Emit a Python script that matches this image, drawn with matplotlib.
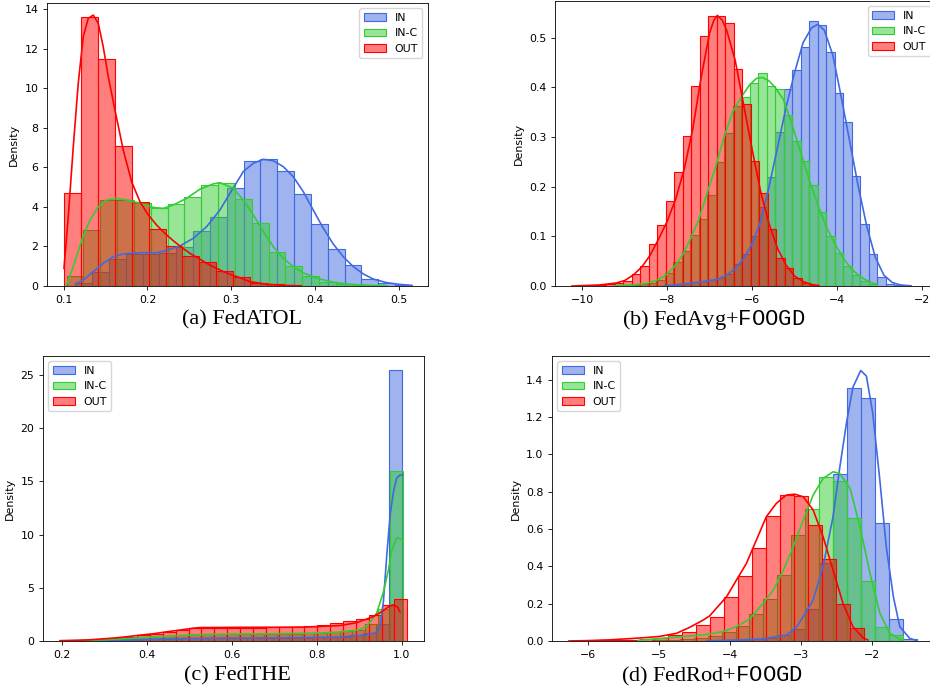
import numpy as np
import matplotlib
matplotlib.use("Agg")
import matplotlib.pyplot as plt
from matplotlib.colors import to_rgba
from matplotlib.ticker import MultipleLocator

plt.rcParams["font.family"] = "DejaVu Sans"
plt.rcParams["mathtext.fontset"] = "custom"
plt.rcParams["mathtext.rm"] = "Liberation Serif"
plt.rcParams["mathtext.tt"] = "Liberation Mono"

LABELS = ["IN", "IN-C", "OUT"]
COLORS = ["royalblue", "limegreen", "red"]

# --- (a) FedATOL : histogram ranges, bar heights, kde points ---
ATOL_RANGES = [(0.1138, 0.5154), (0.1036, 0.4851), (0.1003, 0.3831)]
ATOL_IN_H = [0.17, 0.69, 1.36, 1.63, 1.63, 1.68, 1.99, 2.78, 3.47, 4.93,
             6.30, 6.43, 5.83, 4.65, 3.12, 1.85, 1.04, 0.37, 0.17, 0.07]
ATOL_INC_H = [0.49, 2.83, 4.33, 4.33, 4.20, 3.92, 4.16, 4.48, 5.09, 5.22,
              4.41, 3.17, 1.73, 1.03, 0.52, 0.22, 0.10, 0.04, 0.02]
ATOL_OUT_H = [4.72, 13.58, 11.49, 7.06, 4.25, 2.90, 2.00, 1.52, 1.20, 0.77,
              0.47, 0.17, 0.08, 0.03]
ATOL_IN_KX = [0.1138, 0.1234, 0.1353, 0.1472, 0.1592, 0.1711, 0.191, 0.2109, 0.2208,
              0.2387, 0.2546, 0.2706, 0.2864, 0.2983, 0.3103, 0.3142, 0.3262, 0.3381,
              0.35, 0.362, 0.3739, 0.3858, 0.3977, 0.4097, 0.4216, 0.4335, 0.4455,
              0.4574, 0.4693, 0.4852, 0.5012, 0.5154]
ATOL_IN_KY = [0.1, 0.3, 0.72, 1.15, 1.48, 1.62, 1.68, 1.68, 1.78, 2.02, 2.41, 3.0,
              3.84, 4.68, 5.5, 5.78, 6.2, 6.40, 6.33, 6.03, 5.52, 4.77, 3.84, 2.92,
              2.12, 1.48, 0.98, 0.61, 0.35, 0.17, 0.08, 0.03]
ATOL_INC_KX = [0.1032, 0.1115, 0.1215, 0.1314, 0.1413, 0.1513, 0.1632, 0.1751, 0.191,
               0.2069, 0.2188, 0.2307, 0.2467, 0.2626, 0.2785, 0.2866, 0.3023, 0.3142,
               0.3262, 0.3381, 0.35, 0.362, 0.3739, 0.3858, 0.4018, 0.4216, 0.4415,
               0.4614, 0.4851]
ATOL_INC_KY = [0.05, 0.98, 2.3, 3.33, 4.0, 4.35, 4.43, 4.35, 4.18, 3.97, 3.92, 4.09,
               4.43, 4.89, 5.16, 5.22, 4.94, 4.35, 3.59, 2.75, 1.99, 1.4, 0.98, 0.67,
               0.39, 0.19, 0.085, 0.035, 0.01]
ATOL_OUT_KX = [0.1004, 0.1055, 0.1115, 0.1174, 0.1234, 0.1293, 0.1353, 0.1413, 0.1472,
               0.1532, 0.1612, 0.1711, 0.1811, 0.191, 0.2009, 0.2109, 0.2208, 0.2307,
               0.2408, 0.2507, 0.2606, 0.2706, 0.2805, 0.2904, 0.3004, 0.3103, 0.322,
               0.342, 0.362, 0.3831]
ATOL_OUT_KY = [0.89, 3.5, 7.04, 10.24, 12.6, 13.52, 13.69, 13.27, 12.09, 10.58, 8.89,
               6.87, 5.27, 4.26, 3.59, 3.08, 2.66, 2.29, 1.95, 1.65, 1.40, 1.15, 0.93,
               0.73, 0.56, 0.42, 0.22, 0.09, 0.03, 0.005]

# --- (b) FedAvg+FOOGD ---
AVG_RANGES = [(-8.058, -2.258), (-9.258, -3.058), (-10.235, -4.435)]
AVG_IN_H = [0.002, 0.004, 0.006, 0.008, 0.011, 0.013, 0.017, 0.025, 0.045, 0.065,
            0.10, 0.16, 0.22, 0.31, 0.396, 0.434, 0.481, 0.533, 0.526, 0.472,
            0.388, 0.331, 0.222, 0.125, 0.064, 0.018, 0.005, 0.002, 0.001]
AVG_INC_H = [0.0005, 0.001, 0.002, 0.004, 0.007, 0.012, 0.0255, 0.049, 0.070, 0.102,
             0.135, 0.184, 0.249, 0.309, 0.362, 0.381, 0.409, 0.428, 0.403, 0.396,
             0.344, 0.291, 0.252, 0.203, 0.150, 0.101, 0.066, 0.040, 0.022, 0.010, 0.004]
AVG_OUT_H = [0.001, 0.001, 0.002, 0.003, 0.004, 0.006, 0.010, 0.025, 0.041, 0.084,
             0.123, 0.171, 0.230, 0.302, 0.403, 0.503, 0.544, 0.544, 0.530, 0.436,
             0.366, 0.251, 0.187, 0.115, 0.056, 0.036, 0.017, 0.007, 0.003]
AVG_IN_KX = [-8.06, -7.6, -7.2, -7.0, -6.8, -6.6, -6.4, -6.2, -6.0, -5.8, -5.6, -5.4,
             -5.2, -5.0, -4.8, -4.6, -4.45, -4.3, -4.1, -3.9, -3.7, -3.5, -3.3, -3.1,
             -2.9, -2.7, -2.5, -2.26]
AVG_IN_KY = [0.0003, 0.004, 0.008, 0.011, 0.014, 0.022, 0.035, 0.055, 0.085, 0.13, 0.2,
             0.28, 0.36, 0.43, 0.49, 0.52, 0.527, 0.515, 0.465, 0.38, 0.29, 0.2, 0.12,
             0.058, 0.022, 0.007, 0.002, 0.0003]
AVG_INC_KX = [-9.26, -8.8, -8.5, -8.26, -8.06, -7.86, -7.66, -7.46, -7.26, -7.06, -6.86,
              -6.66, -6.46, -6.26, -6.06, -5.9, -5.76, -5.6, -5.46, -5.26, -5.06, -4.86,
              -4.66, -4.46, -4.26, -4.06, -3.86, -3.66, -3.46, -3.26, -3.06]
AVG_INC_KY = [0.0005, 0.002, 0.005, 0.011, 0.02, 0.036, 0.059, 0.093, 0.133, 0.187, 0.24,
              0.30, 0.35, 0.38, 0.405, 0.418, 0.42, 0.413, 0.40, 0.375, 0.325, 0.27,
              0.215, 0.165, 0.12, 0.086, 0.057, 0.034, 0.019, 0.009, 0.003]
AVG_OUT_KX = [-10.24, -9.6, -9.2, -9.0, -8.8, -8.6, -8.4, -8.2, -8.0, -7.8, -7.6, -7.4,
              -7.2, -7.0, -6.9, -6.82, -6.7, -6.6, -6.4, -6.2, -6.0, -5.8, -5.6, -5.4,
              -5.2, -5.0, -4.8, -4.6, -4.44]
AVG_OUT_KY = [0.0, 0.002, 0.006, 0.011, 0.022, 0.038, 0.062, 0.095, 0.13, 0.175, 0.235,
              0.315, 0.42, 0.51, 0.535, 0.545, 0.535, 0.515, 0.455, 0.365, 0.275, 0.19,
              0.125, 0.075, 0.042, 0.02, 0.009, 0.003, 0.001]

# --- (c) FedTHE ---
THE_RANGES = [(0.2389, 1.0014), (0.1997, 1.003), (0.196, 1.0132)]
THE_IN_H = [0.01, 0.03, 0.05, 0.08, 0.11, 0.15, 0.18, 0.21, 0.24, 0.26, 0.27, 0.28,
            0.28, 0.28, 0.29, 0.30, 0.31, 0.32, 0.34, 0.37, 0.42, 0.52, 0.75, 1.6, 25.47]
THE_INC_H = [0.02, 0.05, 0.1, 0.16, 0.22, 0.29, 0.36, 0.43, 0.5, 0.56, 0.62, 0.64, 0.65,
             0.66, 0.66, 0.67, 0.68, 0.69, 0.7, 0.72, 0.75, 0.8, 0.9, 1.05, 1.6, 3.0, 15.98]
THE_OUT_H = [0.02, 0.04, 0.08, 0.15, 0.25, 0.38, 0.53, 0.69, 0.88, 1.06, 1.2, 1.25, 1.25,
             1.25, 1.25, 1.26, 1.27, 1.29, 1.32, 1.38, 1.47, 1.66, 1.88, 2.07, 2.44, 3.4, 3.92]
THE_IN_KX = [0.239, 0.3, 0.35, 0.4, 0.45, 0.5, 0.55, 0.6, 0.7, 0.8, 0.85, 0.9, 0.92,
             0.94, 0.949, 0.957, 0.965, 0.973, 0.981, 0.988, 0.996, 1.0014]
THE_IN_KY = [0.0, 0.04, 0.09, 0.14, 0.19, 0.23, 0.26, 0.27, 0.29, 0.33, 0.37, 0.5, 0.6,
             0.8, 1.3, 3.7, 8.1, 11.9, 14.1, 15.3, 15.6, 15.6]
THE_INC_KX = [0.1997, 0.25, 0.3, 0.35, 0.4, 0.45, 0.5, 0.55, 0.6, 0.7, 0.8, 0.85, 0.9,
              0.918, 0.941, 0.957, 0.969, 0.976, 0.988, 0.996, 1.003]
THE_INC_KY = [0.0, 0.05, 0.12, 0.22, 0.34, 0.45, 0.55, 0.62, 0.65, 0.67, 0.73, 0.82, 1.05,
              1.4, 2.6, 4.6, 6.7, 8.4, 9.7, 9.6, 9.4]
THE_OUT_KX = [0.196, 0.23, 0.262, 0.293, 0.324, 0.356, 0.387, 0.418, 0.45, 0.479, 0.507,
              0.526, 0.6, 0.7, 0.776, 0.855, 0.894, 0.933, 0.955, 0.97, 0.98, 0.99, 0.996]
THE_OUT_KY = [0.03, 0.06, 0.1, 0.19, 0.28, 0.41, 0.56, 0.69, 0.88, 1.03, 1.19, 1.26, 1.28,
              1.29, 1.31, 1.45, 1.72, 2.29, 2.8, 3.25, 3.4, 3.2, 2.75]

# --- (d) FedRod+FOOGD ---
ROD_RANGES = [(-4.329, -1.371), (-5.298, -1.568), (-6.253, -2.11)]
ROD_IN_H = [0.001, 0.003, 0.006, 0.012, 0.018, 0.03, 0.065, 0.17, 0.42, 0.893, 1.354,
            1.30, 0.63, 0.116, 0.012]
ROD_INC_H = [0.002, 0.004, 0.007, 0.01, 0.014, 0.027, 0.05, 0.08, 0.143, 0.223, 0.354,
             0.566, 0.71, 0.88, 0.86, 0.66, 0.32, 0.077, 0.03]
ROD_OUT_H = [0.001, 0.002, 0.003, 0.005, 0.007, 0.012, 0.018, 0.032, 0.048, 0.086, 0.13,
             0.234, 0.348, 0.497, 0.671, 0.78, 0.777, 0.621, 0.437, 0.2, 0.068]
ROD_IN_KX = [-4.33, -3.91, -3.57, -3.43, -3.2, -3.06, -2.97, -2.83, -2.69, -2.55, -2.455,
             -2.36, -2.27, -2.16, -2.08, -1.99, -1.89, -1.80, -1.70, -1.61, -1.47, -1.37]
ROD_IN_KY = [0.001, 0.005, 0.01, 0.018, 0.032, 0.077, 0.13, 0.22, 0.40, 0.666, 0.93, 1.17,
             1.36, 1.45, 1.42, 1.22, 0.86, 0.505, 0.237, 0.077, 0.014, 0.002]
ROD_INC_KX = [-5.3, -4.85, -4.38, -4.10, -3.91, -3.72, -3.54, -3.39, -3.25, -3.11, -2.97,
              -2.83, -2.69, -2.55, -2.455, -2.31, -2.17, -2.03, -1.89, -1.75, -1.61, -1.57]
ROD_INC_KY = [0.003, 0.018, 0.032, 0.05, 0.077, 0.12, 0.20, 0.273, 0.38, 0.505, 0.648,
              0.782, 0.871, 0.907, 0.898, 0.818, 0.612, 0.363, 0.148, 0.041, 0.01, 0.005]
ROD_OUT_KX = [-6.27, -6.0, -5.7, -5.4, -5.2, -5.0, -4.755, -4.57, -4.38, -4.29, -4.05,
              -3.91, -3.77, -3.63, -3.49, -3.35, -3.21, -3.09, -2.97, -2.83, -2.69, -2.55,
              -2.41, -2.27, -2.13, -2.06]
ROD_OUT_KY = [0.0, 0.002, 0.006, 0.013, 0.018, 0.024, 0.041, 0.073, 0.112, 0.134, 0.237,
              0.327, 0.416, 0.541, 0.666, 0.737, 0.782, 0.787, 0.773, 0.702, 0.559, 0.38,
              0.202, 0.077, 0.018, 0.005]

CAPTIONS = ["(a) FedATOL", r"(b) FedAvg+$\mathtt{FOOGD}$",
            "(c) FedTHE", r"(d) FedRod+$\mathtt{FOOGD}$"]

FS = 7.9


def draw_panel(ax, ranges, heights, kdes, legend_loc):
    # bars first (IN at the bottom, OUT on top), kde lines afterwards
    for (lo, hi), h, lab, col in zip(ranges, heights, LABELS, COLORS):
        edges = np.linspace(lo, hi, len(h) + 1)
        ax.bar(edges[:-1], h, width=np.diff(edges), align="edge",
               facecolor=to_rgba(col, 0.5), edgecolor=col, linewidth=0.8, label=lab)
    for (kx, ky), col in zip(kdes, COLORS):
        ax.plot(kx, ky, color=col, linewidth=1.2)
    ax.set_ylabel("Density", fontsize=FS)
    ax.tick_params(labelsize=FS, length=2.7, width=0.6)
    for s in ax.spines.values():
        s.set_linewidth(0.6)
    ax.legend(loc=legend_loc, fontsize=FS)


fig = plt.figure(figsize=(9.3, 6.94), dpi=100)

ax_a = fig.add_axes([0.0505, 0.5879, 0.4097, 0.4078])
draw_panel(ax_a, ATOL_RANGES, [ATOL_IN_H, ATOL_INC_H, ATOL_OUT_H],
           [(ATOL_IN_KX, ATOL_IN_KY), (ATOL_INC_KX, ATOL_INC_KY), (ATOL_OUT_KX, ATOL_OUT_KY)],
           "upper right")
ax_a.set_xlim(0.0801, 0.5346)
ax_a.set_ylim(0, 14.3)
ax_a.xaxis.set_major_locator(MultipleLocator(0.1))
ax_a.yaxis.set_major_locator(MultipleLocator(2))

ax_b = fig.add_axes([0.5968, 0.5879, 0.4097, 0.4107])
draw_panel(ax_b, AVG_RANGES, [AVG_IN_H, AVG_INC_H, AVG_OUT_H],
           [(AVG_IN_KX, AVG_IN_KY), (AVG_INC_KX, AVG_INC_KY), (AVG_OUT_KX, AVG_OUT_KY)],
           "upper right")
ax_b.set_xlim(-10.64, -1.67)
ax_b.set_ylim(0, 0.574)
ax_b.xaxis.set_major_locator(MultipleLocator(2))
ax_b.yaxis.set_major_locator(MultipleLocator(0.1))

ax_c = fig.add_axes([0.0462, 0.0764, 0.4097, 0.4107])
draw_panel(ax_c, THE_RANGES, [THE_IN_H, THE_INC_H, THE_OUT_H],
           [(THE_IN_KX, THE_IN_KY), (THE_INC_KX, THE_INC_KY), (THE_OUT_KX, THE_OUT_KY)],
           "upper left")
ax_c.set_xlim(0.156, 1.0525)
ax_c.set_ylim(0, 26.8)
ax_c.xaxis.set_major_locator(MultipleLocator(0.2))
ax_c.yaxis.set_major_locator(MultipleLocator(5))

ax_d = fig.add_axes([0.5935, 0.0764, 0.4129, 0.4107])
draw_panel(ax_d, ROD_RANGES, [ROD_IN_H, ROD_INC_H, ROD_OUT_H],
           [(ROD_IN_KX, ROD_IN_KY), (ROD_INC_KX, ROD_INC_KY), (ROD_OUT_KX, ROD_OUT_KY)],
           "upper left")
ax_d.set_xlim(-6.51, -1.10)
ax_d.set_ylim(0, 1.528)
ax_d.xaxis.set_major_locator(MultipleLocator(1))
ax_d.yaxis.set_major_locator(MultipleLocator(0.2))

# subfigure captions
cap_pos = [(242, 320), (714, 320), (237, 676), (712, 676)]
for (px, py), cap in zip(cap_pos, CAPTIONS):
    fig.text(px / 930, 1 - py / 694, cap, ha="center", va="center",
             fontsize=16, family="Liberation Serif")

fig.savefig("out.png", dpi=100)
